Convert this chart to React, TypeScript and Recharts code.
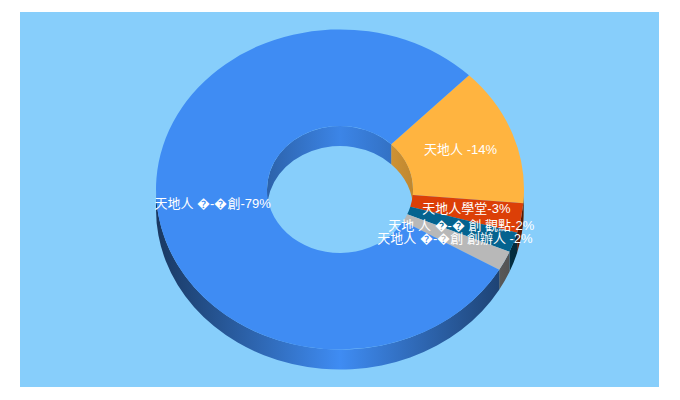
import React from "react";
import { PieChart, Pie, Cell } from "recharts";

const categories = ["天地人 -14%", "天地人學堂-3%", "天地 人 �-� 創 觀點-2%", "天地人 �-�創 創辦人 -2%", "天地人 �-�創-79%"];
const shares = [14, 3, 2, 2, 79];
const colors = ["#FFB440", "#DC3F07", "#04638F", "#B8B8B8", "#3F8CF3"];
const data = categories.map((name, i) => ({ name, value: shares[i] }));

const TILT = 0.87;
const DEPTH = 20;
const RAD = Math.PI / 180;

function pt(cx: number, cy: number, r: number, deg: number, dy = 0) {
  return [cx + r * Math.cos(deg * RAD), cy - r * TILT * Math.sin(deg * RAD) + dy];
}
function arc(r: number, to: number[], sweep: number, large: number) {
  return `A${r} ${r * TILT} 0 ${large} ${sweep} ${to[0]} ${to[1]}`;
}
// Band between an elliptical arc and the same arc moved down by the depth.
function wall(cx: number, cy: number, r: number, a: number, b: number) {
  const large = Math.abs(b - a) > 180 ? 1 : 0;
  const p1 = pt(cx, cy, r, a), p2 = pt(cx, cy, r, b);
  const p3 = pt(cx, cy, r, b, DEPTH), p4 = pt(cx, cy, r, a, DEPTH);
  return `M${p1[0]} ${p1[1]}${arc(r, p2, 1, large)}L${p3[0]} ${p3[1]}${arc(r, p4, 0, large)}Z`;
}

function shade(hex: string, f: number) {
  const n = parseInt(hex.slice(1), 16);
  const c = [(n >> 16) & 255, (n >> 8) & 255, n & 255].map((v) => Math.round(v * f));
  return `rgb(${c[0]},${c[1]},${c[2]})`;
}

function TiltedSlice(props: any) {
  const { cx, cy, innerRadius: ri, outerRadius: ro, startAngle, endAngle, fill } = props;
  // Angles run clockwise from startAngle (high) to endAngle (low).
  const hi = Math.max(startAngle, endAngle);
  const lo = Math.min(startAngle, endAngle);
  const large = hi - lo > 180 ? 1 : 0;
  const a = pt(cx, cy, ro, hi), b = pt(cx, cy, ro, lo), c = pt(cx, cy, ri, lo), d = pt(cx, cy, ri, hi);
  const top = `M${a[0]} ${a[1]}${arc(ro, b, 1, large)}L${c[0]} ${c[1]}${arc(ri, d, 0, large)}Z`;

  const walls: React.ReactNode[] = [];
  // Outer wall shows on the lower half of the ring.
  for (const k of [0, -360]) {
    const s = Math.min(hi, k);
    const e = Math.max(lo, -180 + k);
    if (s > e) walls.push(<path key={`o${k}`} d={wall(cx, cy, ro, s, e)} fill={`url(#outer-${fill.slice(1)})`} />);
  }
  // Inner wall shows on the upper half of the hole.
  for (const k of [0, -360]) {
    const s = Math.min(hi, 180 + k);
    const e = Math.max(lo, k);
    if (s > e) walls.push(<path key={`i${k}`} d={wall(cx, cy, ri, s, e)} fill={`url(#inner-${fill.slice(1)})`} />);
  }
  return (
    <g>
      {walls}
      <path d={top} fill={fill} />
    </g>
  );
}

function SliceLabel(props: any) {
  const { cx, cy, innerRadius, outerRadius, midAngle, name } = props;
  const [x, y] = pt(cx, cy, (innerRadius + outerRadius) / 2, midAngle);
  return (
    <text x={x} y={y - 1} textAnchor="middle" dominantBaseline="central" fill="#FFFFFF" fontSize={13}
      fontFamily="'Liberation Sans','Noto Sans CJK TC',sans-serif">
      {name}
    </text>
  );
}

export default function App() {
  return (
    <div style={{ position: "absolute", left: 20, top: 12, width: 639, height: 375, background: "#87CEFB" }}>
      <PieChart width={639} height={375} margin={{ top: 0, right: 0, bottom: 0, left: 0 }}>
        <defs>
          {colors.map((col) => (
            <React.Fragment key={col}>
              <linearGradient id={`outer-${col.slice(1)}`} gradientUnits="userSpaceOnUse" x1={136} y1={0} x2={504} y2={0}>
                <stop offset="0" stopColor={shade(col, 0.4)} />
                <stop offset="0.5" stopColor={shade(col, 1)} />
                <stop offset="1" stopColor={shade(col, 0.4)} />
              </linearGradient>
              <linearGradient id={`inner-${col.slice(1)}`} gradientUnits="userSpaceOnUse" x1={247} y1={0} x2={393} y2={0}>
                <stop offset="0" stopColor={shade(col, 0.7)} />
                <stop offset="0.5" stopColor={shade(col, 0.95)} />
                <stop offset="1" stopColor={shade(col, 0.75)} />
              </linearGradient>
            </React.Fragment>
          ))}
        </defs>
        <Pie
          data={data}
          dataKey="value"
          nameKey="name"
          cx={320}
          cy={177.5}
          innerRadius={73}
          outerRadius={184}
          startAngle={45.5}
          endAngle={-314.5}
          paddingAngle={0}
          stroke="none"
          isAnimationActive={false}
          labelLine={false}
          label={SliceLabel}
          shape={TiltedSlice}
        >
          {data.map((d, i) => (
            <Cell key={d.name} fill={colors[i]} />
          ))}
        </Pie>
      </PieChart>
    </div>
  );
}
